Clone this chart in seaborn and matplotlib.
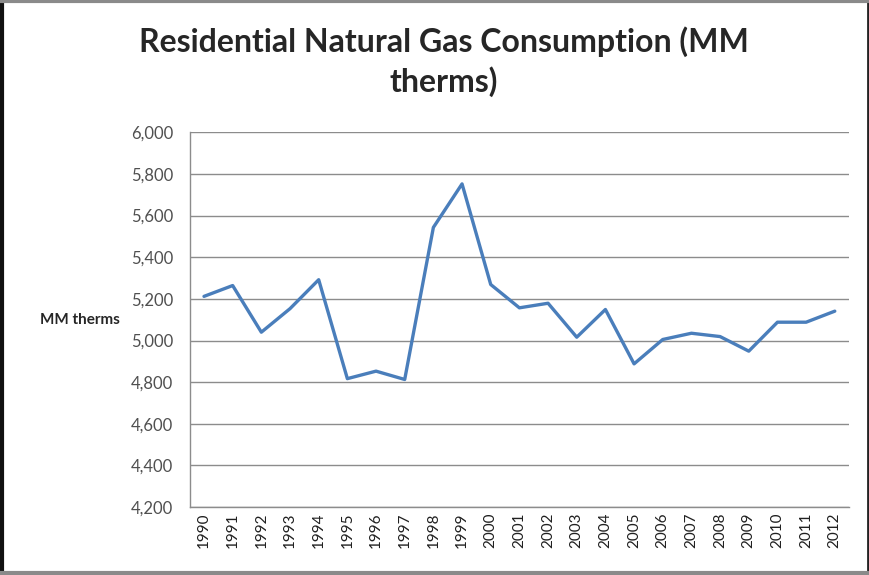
import matplotlib
matplotlib.use("Agg")
import matplotlib.pyplot as plt
import seaborn as sns
import pandas as pd
from matplotlib.ticker import FuncFormatter
from matplotlib.lines import Line2D

# Data
years = [str(y) for y in range(1990, 2013)]
consumption = [5212, 5264, 5040, 5153, 5292, 4817, 4853, 4813, 5543, 5752,
               5269, 5157, 5179, 5016, 5149, 4888, 5005, 5035, 5019, 4949,
               5088, 5088, 5141]
y_ticks = list(range(4200, 6001, 200))

df = pd.DataFrame({"year": years, "therms": consumption})

sns.set_style("white")
plt.rcParams["font.family"] = ["Lato", "DejaVu Sans"]

fig = plt.figure(figsize=(8.7, 5.75), dpi=100)
ax = fig.add_axes([0.218, 0.118, 0.758, 0.652])

sns.lineplot(data=df, x="year", y="therms", color="#4A7EBB", linewidth=2.4, ax=ax)

ax.set_xlim(-0.5, len(years) - 0.5)
ax.set_ylim(4200, 6000)
ax.set_yticks(y_ticks)
ax.yaxis.set_major_formatter(FuncFormatter(lambda v, p: f"{int(v):,}"))
ax.grid(axis="y", color="#8c8c8c", linewidth=1)
ax.set_axisbelow(True)

for s in ["top", "right"]:
    ax.spines[s].set_visible(False)
for s in ["left", "bottom"]:
    ax.spines[s].set_color("#8c8c8c")
    ax.spines[s].set_linewidth(1)

ax.tick_params(axis="y", labelsize=12, labelcolor="#505050", length=5, pad=7, color="#8c8c8c")
ax.tick_params(axis="x", labelsize=11, labelcolor="#202020", rotation=90, length=0)

ax.set_xlabel("")
ax.set_ylabel("MM therms", rotation=0, fontsize=11, fontweight="bold", ha="center", va="center")
ax.yaxis.set_label_coords(-0.167, 0.5)

fig.text(0.51, 0.9096, "Residential Natural Gas Consumption (MM", ha="center", va="baseline",
         fontsize=23, fontweight="bold")
fig.text(0.51, 0.840, "therms)", ha="center", va="baseline", fontsize=23, fontweight="bold")

# outer chart frame
fig.lines.append(Line2D([0.002, 0.002], [0, 1], transform=fig.transFigure, color="#111111", linewidth=3))
fig.lines.append(Line2D([0.998, 0.998], [0, 1], transform=fig.transFigure, color="#222222", linewidth=2))
fig.lines.append(Line2D([0, 1], [0.998, 0.998], transform=fig.transFigure, color="#8a8a8a", linewidth=3))
fig.lines.append(Line2D([0, 1], [0.003, 0.003], transform=fig.transFigure, color="#8a8a8a", linewidth=3))

fig.savefig("out.png", dpi=100)
